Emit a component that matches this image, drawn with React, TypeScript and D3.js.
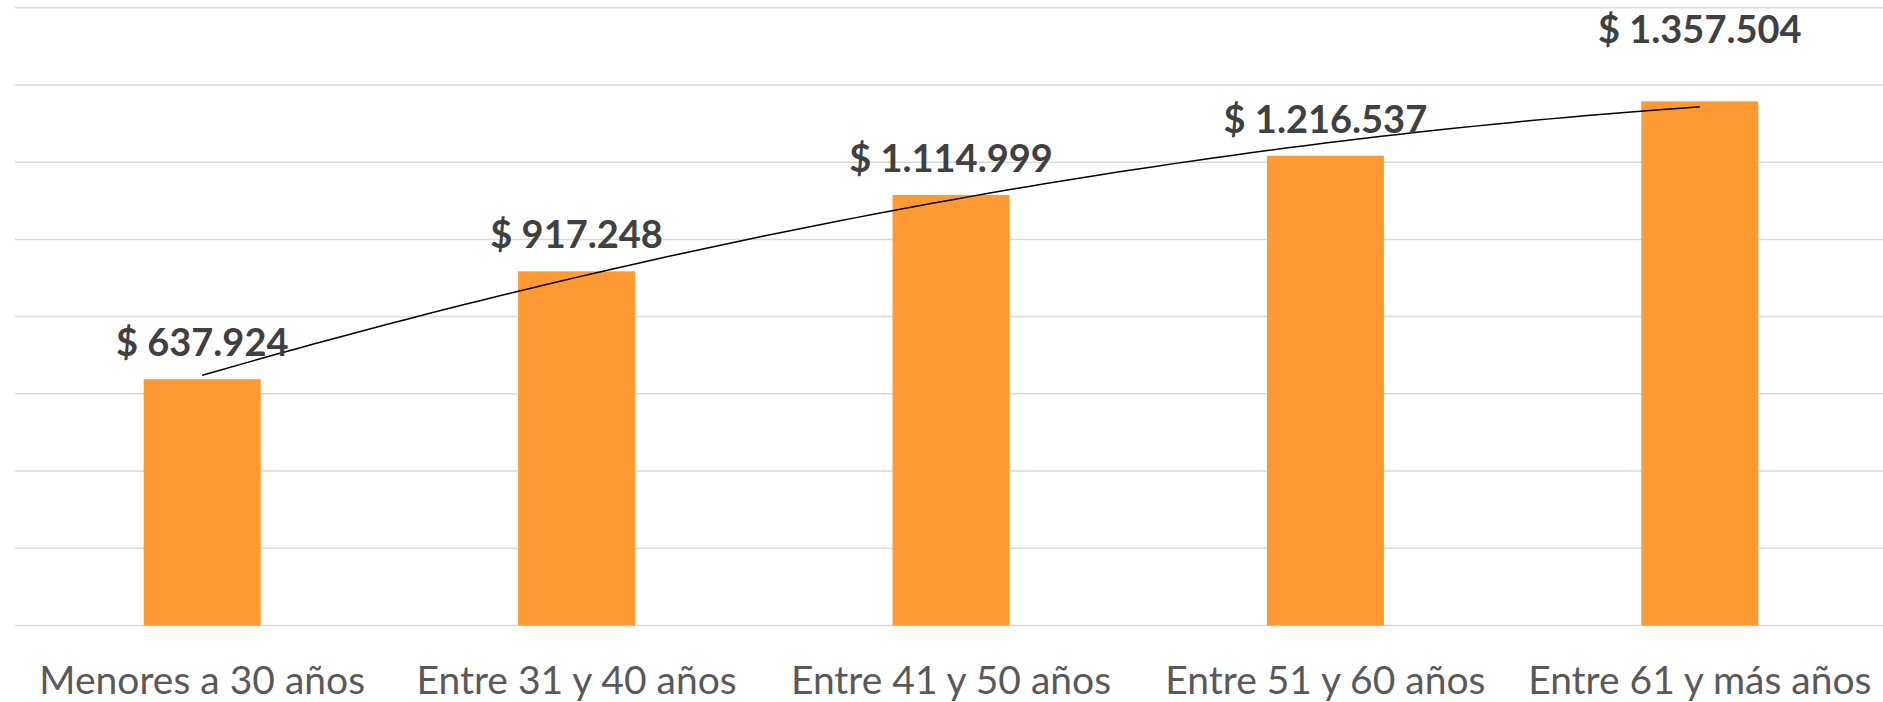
import React from "react";
import * as d3 from "d3";

const categories: string[] = [
  "Menores a 30 años",
  "Entre 31 y 40 años",
  "Entre 41 y 50 años",
  "Entre 51 y 60 años",
  "Entre 61 y más años",
];
const values: number[] = [637924, 917248, 1114999, 1216537, 1357504];
const yTicks: number[] = [0, 200000, 400000, 600000, 800000, 1000000, 1200000, 1400000, 1600000];

const W = 1883;
const H = 702;

function fmt(v: number): string {
  return "$ " + v.toString().replace(/\B(?=(\d{3})+(?!\d))/g, ".");
}

// polynomial (order 2) least-squares trendline
function quadFit(ys: number[]) {
  const xs = ys.map((_, i) => i + 1);
  const sums = [0, 0, 0, 0, 0];
  const sy = [0, 0, 0];
  xs.forEach((x, i) => {
    for (let k = 0; k < 5; k++) sums[k] += Math.pow(x, k);
    for (let k = 0; k < 3; k++) sy[k] += Math.pow(x, k) * ys[i];
  });
  const M = [
    [sums[0], sums[1], sums[2], sy[0]],
    [sums[1], sums[2], sums[3], sy[1]],
    [sums[2], sums[3], sums[4], sy[2]],
  ];
  for (let c = 0; c < 3; c++) {
    for (let r = c + 1; r < 3; r++) {
      const f = M[r][c] / M[c][c];
      for (let k = c; k < 4; k++) M[r][k] -= f * M[c][k];
    }
  }
  const coef = [0, 0, 0];
  for (let r = 2; r >= 0; r--) {
    let s = M[r][3];
    for (let k = r + 1; k < 3; k++) s -= M[r][k] * coef[k];
    coef[r] = s / M[r][r];
  }
  return (x: number) => coef[0] + coef[1] * x + coef[2] * x * x;
}

export default function App() {
  const x = d3
    .scaleBand<string>()
    .domain(categories)
    .range([15, 1887])
    .paddingInner(0.6875)
    .paddingOuter(0.34375);
  const y = d3.scaleLinear().domain([0, 1600000]).range([625.5, 7.7]);

  const cx = (i: number) => (x(categories[i]) as number) + x.bandwidth() / 2;
  const tx = d3
    .scaleLinear()
    .domain([1, categories.length])
    .range([cx(0), cx(categories.length - 1)]);
  const f = quadFit(values);
  const samples = d3.range(1, categories.length + 0.0001, 0.05);
  const line = d3
    .line<number>()
    .x((t) => tx(t))
    .y((t) => y(f(t)))
    .curve(d3.curveLinear);

  return (
    <svg
      width={W}
      height={H}
      style={{ position: "absolute", left: 0, top: 0, background: "#fff" }}
    >
      <rect x={0} y={0} width={W} height={H} fill="#ffffff" />
      {yTicks.map((t) => (
        <line
          key={t}
          x1={15}
          x2={W}
          y1={y(t)}
          y2={y(t)}
          stroke="#D9D9D9"
          strokeWidth={1.5}
        />
      ))}
      {values.map((v, i) => (
        <rect
          key={categories[i]}
          x={x(categories[i])}
          y={y(v)}
          width={x.bandwidth()}
          height={y(0) - y(v)}
          fill="#FF9933"
        />
      ))}
      <path d={line(samples) || ""} fill="none" stroke="#000" strokeWidth={1.5} />
      {values.map((v, i) => {
        const lift = i === values.length - 1 ? 58 : 23;
        return (
          <text
            key={"l" + i}
            x={cx(i)}
            y={y(v) - lift}
            textAnchor="middle"
            fontFamily="Lato, 'Open Sans', sans-serif"
            fontWeight={700}
            fontSize={38}
            fill="#404040"
          >
            {fmt(v)}
          </text>
        );
      })}
      {categories.map((c, i) => (
        <text
          key={"c" + i}
          x={cx(i)}
          y={694.3}
          textAnchor="middle"
          fontFamily="Lato, 'Open Sans', sans-serif"
          fontSize={39}
          fill="#595959"
        >
          {c}
        </text>
      ))}
    </svg>
  );
}
